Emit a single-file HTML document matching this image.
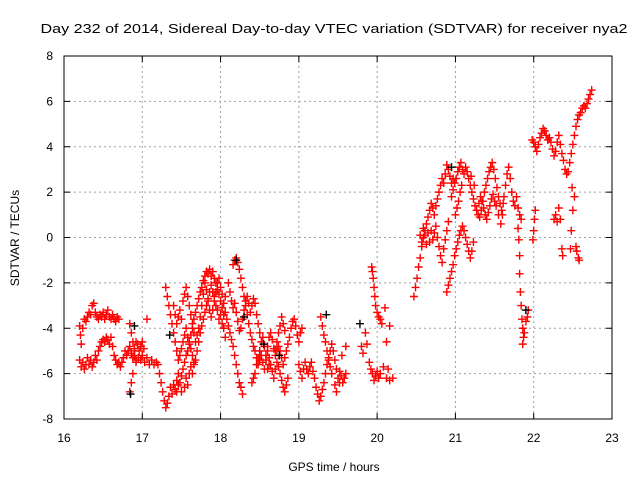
<!DOCTYPE html>
<html><head><meta charset="utf-8"><style>
body{margin:0;background:#fff}
svg{display:block;font-family:"Liberation Sans",sans-serif}
</style></head><body>
<svg id="chart" width="640" height="480" viewBox="0 0 640 480" xmlns="http://www.w3.org/2000/svg">
<rect x="0" y="0" width="640" height="480" fill="#fff"/>
<text x="334" y="33" font-size="13" text-anchor="middle" textLength="587" lengthAdjust="spacingAndGlyphs">Day 232 of 2014, Sidereal Day-to-day VTEC variation (SDTVAR) for receiver nya2</text>
<text x="0" y="0" font-size="12" text-anchor="middle" transform="translate(19,238) rotate(-90)">SDTVAR / TECUs</text>
<text x="334" y="471" font-size="12" text-anchor="middle">GPS time / hours</text>
<g id="grid"></g><g id="ticks"></g><g id="marks"></g>
<rect x="64" y="56" width="548" height="363" fill="none" stroke="#000" stroke-width="1"/>
</svg>
<script>
const xTicks=[16,17,18,19,20,21,22,23];
const yTicks=[-8,-6,-4,-2,0,2,4,6,8];
const redT=[16.20,16.22,16.24,16.26,16.28,16.30,16.32,16.34,16.36,16.38,16.40,16.42,16.44,16.46,16.48,16.50,16.52,16.54,16.56,16.58,16.60,16.62,16.64,16.66,16.68,16.70,16.72,16.74,16.76,16.78,16.80,16.82,16.84,16.86,16.88,16.90,16.92,16.95,16.98,17.00,17.03,17.06,17.09,17.12,17.15,17.18,
16.20,16.21,16.22,16.24,16.26,16.28,16.30,16.32,16.34,16.36,16.38,16.40,16.42,16.44,16.46,16.48,16.50,16.52,16.54,16.56,16.58,16.60,16.62,16.64,16.66,16.68,16.70,
16.84,16.86,16.88,16.90,16.92,16.88,16.86,16.84,16.90,16.92,16.94,16.96,16.98,17.00,17.02,17.06,
17.20,17.22,17.24,17.26,17.28,17.30,17.32,17.34,17.36,17.38,17.40,17.42,17.44,17.46,17.48,17.50,17.52,17.54,17.56,17.58,17.60,17.62,17.64,17.66,17.68,17.70,17.72,17.74,17.76,17.78,17.80,17.82,17.84,17.86,17.88,17.90,17.92,17.94,17.96,17.98,18.00,18.02,18.04,18.06,18.08,18.10,18.12,18.14,18.16,18.18,18.20,18.22,18.24,18.26,18.28,
17.30,17.32,17.34,17.36,17.38,17.40,17.42,17.44,17.46,17.48,17.50,17.52,17.54,17.56,17.58,17.60,17.62,17.64,17.66,17.68,17.70,17.72,17.74,17.76,17.78,17.80,17.82,17.84,17.86,17.88,17.90,17.92,17.94,17.96,17.98,18.00,18.02,18.04,18.06,
17.40,17.42,17.44,17.46,17.48,17.50,17.52,17.54,17.56,17.58,17.60,17.62,17.64,17.66,17.68,17.70,17.72,17.74,17.76,17.78,17.80,17.82,17.84,17.86,17.88,17.90,17.92,17.94,17.96,17.98,18.00,18.02,18.04,18.06,
17.44,17.46,17.50,17.54,17.56,17.58,17.60,17.62,17.64,17.66,
18.16,18.18,18.20,18.22,18.24,18.26,18.28,18.30,18.32,18.34,18.36,18.38,18.40,18.42,18.44,18.46,18.48,18.50,18.52,18.54,18.56,18.58,18.60,18.62,18.64,18.66,18.68,18.70,18.72,18.74,18.76,18.78,18.80,18.82,18.84,18.86,
18.10,18.12,18.14,18.16,18.18,18.20,18.22,18.24,18.26,18.28,18.30,18.32,18.34,18.36,18.38,18.40,18.42,18.44,18.46,18.48,18.50,18.52,18.54,18.56,18.58,18.60,18.62,18.64,18.66,18.68,18.70,18.72,18.74,18.76,18.78,18.80,18.82,18.84,18.86,18.88,18.90,18.92,18.94,18.96,18.98,19.00,19.02,19.04,
18.40,18.42,18.44,18.46,18.48,18.50,18.60,18.62,18.70,18.72,18.74,18.76,18.78,18.80,18.82,
19.00,19.02,19.04,19.06,19.08,19.10,19.12,19.14,19.16,19.18,19.20,19.22,19.24,19.26,19.28,19.30,19.32,19.34,19.36,19.38,19.40,19.42,19.44,19.46,19.48,19.50,19.52,19.54,19.56,19.58,19.60,
19.28,19.30,19.32,19.34,19.36,19.38,19.40,19.42,19.46,19.48,19.52,19.60,19.55,
19.80,19.82,19.85,19.87,19.90,19.92,19.94,19.96,19.98,20.00,20.02,20.04,20.08,20.12,20.16,20.20,20.14,
19.93,19.94,19.95,19.96,19.97,19.98,20.00,20.02,20.04,20.06,20.10,20.16,20.12,
20.47,20.49,20.51,20.53,20.55,20.57,20.59,20.61,20.63,20.65,20.67,20.69,20.71,20.73,20.75,20.77,20.79,20.81,20.83,20.85,20.87,20.89,20.91,20.93,20.95,20.97,
20.55,20.57,20.59,20.61,20.63,20.65,20.67,20.69,20.71,20.73,20.75,20.77,20.79,20.81,20.83,20.85,20.87,20.89,20.91,
20.89,20.91,20.93,20.95,20.97,20.99,21.01,21.03,21.05,21.07,21.09,21.11,21.13,21.15,21.17,21.19,21.21,21.23,
20.95,20.97,20.99,21.01,21.03,21.05,21.07,21.09,21.11,21.13,21.15,21.17,21.19,21.21,21.23,21.25,21.27,21.29,21.31,21.33,21.35,21.37,21.39,21.41,21.43,21.45,21.47,21.49,21.51,21.53,21.55,21.57,21.59,21.61,
21.00,21.02,21.04,21.06,21.08,21.20,21.24,
21.30,21.32,21.34,21.36,21.38,21.40,21.42,21.44,21.46,21.48,21.50,21.52,21.55,21.58,21.60,21.62,21.64,21.66,21.68,21.70,21.72,21.74,21.76,21.78,21.80,21.82,21.84,
21.80,21.81,21.82,21.82,21.83,21.84,21.85,21.86,21.87,21.86,21.88,21.90,21.92,21.93,
21.99,22.00,22.01,22.02,
21.98,22.00,22.02,22.04,22.06,22.08,22.10,22.12,22.14,22.16,22.18,22.20,22.22,22.24,22.26,22.28,22.30,22.32,22.34,22.36,22.38,22.40,22.42,22.44,22.46,22.48,22.50,22.52,22.54,22.56,22.58,22.60,22.62,22.64,22.66,22.68,22.70,22.72,22.74,
22.26,22.28,22.30,22.32,22.34,22.36,22.37,22.48,22.50,22.52,22.54,22.55,22.57,22.58,22.49,22.47];
const redV=[-5.4,-5.7,-5.5,-5.8,-5.6,-5.3,-5.6,-5.4,-5.7,-5.5,-5.2,-5.4,-5.0,-4.8,-4.6,-4.5,-4.6,-4.4,-4.5,-4.7,-4.4,-4.8,-5.2,-5.4,-5.6,-5.5,-5.7,-5.5,-5.3,-5.0,-5.2,-5.0,-4.8,-5.1,-5.3,-5.2,-5.4,-5.3,-5.4,-5.2,-5.5,-5.3,-5.6,-5.4,-5.6,-5.5,
-3.9,-4.3,-4.7,-4.0,-3.6,-3.7,-3.5,-3.3,-3.4,-3.0,-2.9,-3.3,-3.5,-3.6,-3.4,-3.5,-3.3,-3.6,-3.4,-3.2,-3.5,-3.6,-3.4,-3.6,-3.7,-3.5,-3.6,
-3.8,-4.2,-4.6,-5.0,-5.5,-6.0,-6.4,-6.8,-4.9,-4.6,-4.7,-5.0,-4.8,-4.6,-4.9,-3.6,
-5.6,-6.0,-6.4,-6.8,-7.2,-7.5,-7.3,-7.0,-6.6,-6.9,-6.5,-6.7,-6.3,-6.0,-6.4,-6.1,-5.8,-5.5,-5.2,-5.0,-4.7,-4.3,-4.0,-3.6,-3.3,-3.0,-2.7,-2.4,-2.2,-1.9,-1.7,-1.5,-1.6,-1.4,-1.7,-1.5,-1.8,-2.0,-2.3,-2.5,-2.8,-3.1,-3.4,-3.3,-3.6,-3.9,-4.2,-4.5,-4.8,-5.2,-5.6,-6.0,-6.4,-6.6,-6.9,
-2.2,-2.6,-3.0,-3.4,-3.8,-4.2,-4.6,-5.0,-5.4,-5.2,-4.9,-4.6,-4.3,-4.0,-4.4,-4.6,-4.9,-5.2,-5.6,-5.4,-5.0,-4.6,-4.2,-3.9,-3.6,-3.3,-3.0,-2.7,-2.4,-2.1,-2.4,-2.6,-3.0,-3.2,-3.6,-3.4,-3.8,-4.0,-4.4,
-3.0,-3.4,-3.8,-3.5,-3.2,-3.6,-2.8,-2.5,-2.2,-2.6,-3.0,-3.4,-3.8,-4.2,-4.6,-4.3,-4.0,-3.5,-3.0,-2.5,-2.0,-2.3,-2.8,-3.2,-3.5,-3.2,-2.8,-2.4,-2.0,-1.8,-2.2,-2.5,-2.9,-2.6,
-6.8,-6.5,-6.8,-6.6,-6.2,-6.5,-6.0,-5.7,-6.0,-5.5,
-1.2,-1.0,-0.9,-1.1,-1.4,-1.8,-2.2,-2.6,-3.0,-3.4,-3.8,-4.2,-4.5,-4.8,-5.0,-5.3,-5.6,-5.4,-5.2,-5.5,-5.8,-5.4,-5.0,-5.3,-5.6,-5.9,-6.2,-5.8,-5.5,-5.7,-6.0,-6.3,-6.6,-6.8,-6.5,-6.2,
-2.0,-2.4,-2.8,-3.1,-2.9,-3.3,-3.7,-4.1,-4.0,-3.6,-3.2,-2.8,-2.6,-2.9,-3.3,-3.0,-2.7,-2.9,-3.4,-3.8,-4.2,-4.6,-4.4,-4.8,-5.2,-4.8,-4.4,-4.2,-4.5,-4.9,-5.2,-5.0,-4.8,-5.0,-5.3,-5.6,-5.3,-5.0,-4.7,-4.4,-4.0,-3.7,-3.6,-3.9,-4.3,-4.6,-4.2,-4.0,
-6.4,-6.2,-6.0,-5.6,-5.3,-5.0,-5.8,-5.6,-5.0,-4.6,-4.2,-3.9,-3.5,-3.8,-4.1,
-5.6,-5.9,-6.2,-5.8,-5.5,-5.8,-6.0,-5.7,-5.5,-5.9,-6.2,-6.6,-6.9,-7.2,-7.0,-6.7,-6.4,-6.0,-5.6,-5.3,-5.0,-4.7,-5.0,-5.4,-5.8,-6.2,-5.9,-6.1,-6.4,-6.2,-6.0,
-3.5,-3.9,-4.3,-4.6,-5.0,-5.4,-5.7,-6.0,-6.5,-6.8,-6.4,-4.8,-5.2,
-4.8,-5.1,-4.2,-4.7,-5.5,-5.8,-6.0,-6.3,-6.1,-5.9,-6.2,-6.0,-5.7,-6.2,-6.3,-6.2,-5.8,
-1.3,-1.5,-1.8,-2.2,-2.6,-3.0,-3.3,-3.5,-3.6,-3.8,-3.1,-3.9,-4.6,
-2.6,-2.2,-1.8,-1.3,-0.9,-0.4,0.0,0.3,0.6,0.9,1.2,1.5,1.3,1.0,1.4,1.7,2.0,2.3,2.6,2.4,2.8,3.2,3.0,2.7,2.4,2.6,
0.1,-0.2,0.4,0.1,-0.3,0.2,-0.2,0.3,-0.1,0.2,0.5,0.0,-0.4,-0.8,-1.1,-0.5,-0.1,0.3,0.7,
-2.4,-2.1,-1.8,-1.5,-1.2,-0.8,-0.5,-0.2,0.1,0.3,0.5,0.3,0.0,-0.3,-0.6,-0.9,-0.6,-0.2,
1.8,2.1,2.4,2.6,2.9,3.1,3.3,3.0,2.8,3.1,2.9,2.6,2.3,2.0,1.7,1.4,1.2,1.0,0.9,1.2,1.6,2.0,2.3,2.6,2.9,3.1,3.3,3.0,2.6,2.2,1.8,1.5,1.2,1.5,
1.0,1.3,1.6,2.0,2.3,2.7,2.3,
1.5,1.8,1.6,1.3,1.0,0.8,1.1,1.4,1.7,1.9,1.6,1.4,1.0,0.6,1.0,1.8,2.3,2.8,3.1,2.6,2.0,1.6,1.4,1.8,1.3,1.0,0.8,
0.4,-0.1,-0.8,-1.6,-2.4,-3.0,-3.6,-4.0,-4.4,-4.7,-4.2,-3.7,-3.5,-3.2,
-0.1,0.3,0.8,1.2,
4.3,4.2,4.0,3.8,4.1,4.4,4.6,4.8,4.7,4.5,4.3,4.4,4.2,3.9,3.6,3.8,4.2,4.5,4.1,3.7,3.4,3.0,2.8,2.9,3.3,3.7,4.1,4.5,4.9,5.2,5.4,5.5,5.7,5.8,5.7,5.9,6.1,6.3,6.5,
0.8,1.0,0.7,1.3,0.8,-0.5,-0.8,0.3,1.2,1.8,-0.4,-0.6,-0.9,-1.0,2.2,-0.5];
const blackT=[16.85,17.35,18.20,18.55,18.75,19.35,19.78,20.95,21.90,16.90,18.30];
const blackV=[-6.9,-4.3,-1.0,-4.7,-5.2,-3.4,-3.8,3.1,-3.2,-3.9,-3.5];
const X0=64,X1=612,Y0=419,Y1=56;
function xs(t){return X0+(t-16)/(23-16)*(X1-X0);}
function ys(v){return Y0-(v+8)/16*(Y0-Y1);}
const NS='http://www.w3.org/2000/svg';
function mk(tag,attrs,parent){const e=document.createElementNS(NS,tag);for(const k in attrs)e.setAttribute(k,attrs[k]);parent.appendChild(e);return e;}
const grid=document.getElementById('grid'),ticks=document.getElementById('ticks'),marks=document.getElementById('marks');
xTicks.forEach(t=>{const x=xs(t);
 if(t>16&&t<23){const g=mk('line',{x1:x,x2:x,y1:Y1,y2:Y0,stroke:'#a0a0a0','stroke-dasharray':'2,3'},grid);
 
 }
 mk('line',{x1:x,x2:x,y1:Y0,y2:Y0-6,stroke:'#000'},ticks);
 mk('line',{x1:x,x2:x,y1:Y1,y2:Y1+6,stroke:'#000'},ticks);
 const l=mk('text',{x:x,y:442,'font-size':12,'text-anchor':'middle'},ticks);l.textContent=t;
 
 });
yTicks.forEach(v=>{const y=ys(v);
 if(v>-8&&v<8){const g=mk('line',{x1:X0,x2:X1,y1:y,y2:y,stroke:'#a0a0a0','stroke-dasharray':'2,3'},grid);
 
 }
 mk('line',{x1:X0,x2:X0+6,y1:y,y2:y,stroke:'#000'},ticks);
 mk('line',{x1:X1,x2:X1-6,y1:y,y2:y,stroke:'#000'},ticks);
 const l=mk('text',{x:53,y:y+4,'font-size':12,'text-anchor':'end'},ticks);l.textContent=v;
 
 });
function plus(t,v,col,name){const x=xs(t),y=ys(v);
 const p=mk('path',{d:`M${x-4},${y}H${x+4}M${x},${y-4}V${y+4}`,stroke:col,'stroke-width':1.4,fill:'none'},marks);
 
 }
redT.forEach((t,i)=>plus(t,redV[i],'#f00','red-point'));
blackT.forEach((t,i)=>plus(t,blackV[i],'#000','black-point'));
</script>
</body></html>
